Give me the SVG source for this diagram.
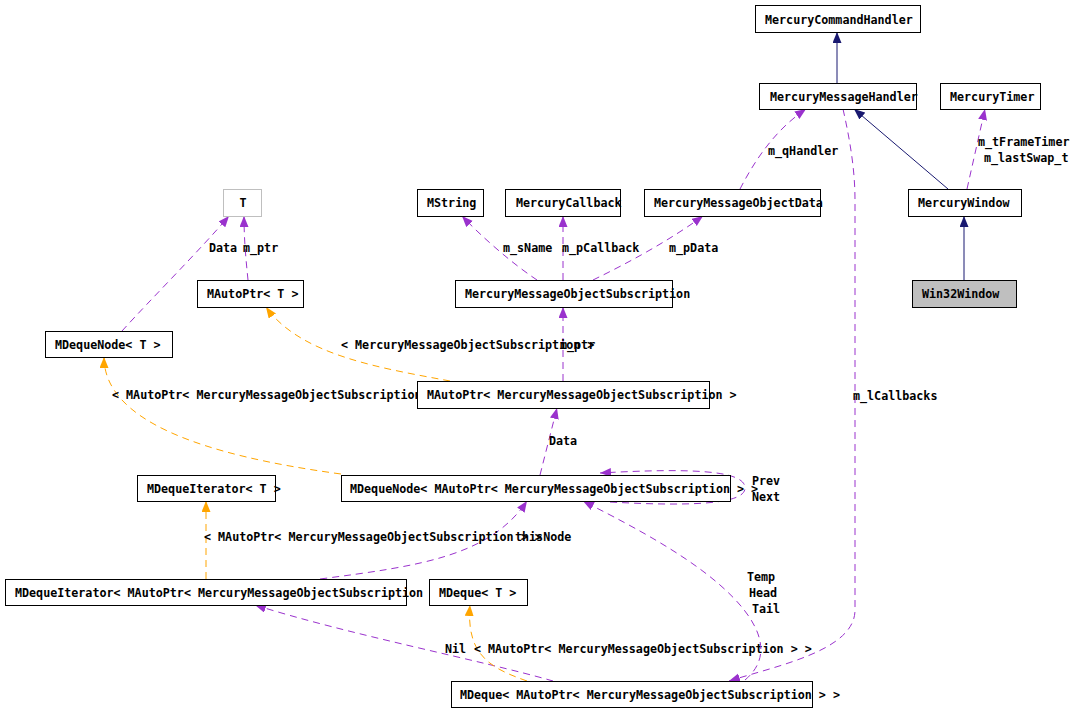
<svg xmlns="http://www.w3.org/2000/svg" width="1070" height="712" viewBox="0 0 1070 712">
<style>
text{font-family:"DejaVu Sans Mono","Liberation Mono",monospace;font-weight:bold;font-size:11.7px;fill:#000}
.box{fill:#fff;stroke:#000;stroke-width:1}
.e{fill:none;stroke-width:1}
.inh{stroke:#191970}
.use{stroke:#9a32cd;stroke-dasharray:7,5}
.tpl{stroke:#ffa500;stroke-dasharray:7,5}
</style>
<defs>
<marker id="aN" markerUnits="userSpaceOnUse" markerWidth="12" markerHeight="10" refX="11" refY="4.5" orient="auto"><path d="M0,0 L11,4.5 L0,9 z" fill="#191970"/></marker>
<marker id="aP" markerUnits="userSpaceOnUse" markerWidth="12" markerHeight="10" refX="11" refY="4.5" orient="auto"><path d="M0,0 L11,4.5 L0,9 z" fill="#9a32cd"/></marker>
<marker id="aO" markerUnits="userSpaceOnUse" markerWidth="12" markerHeight="10" refX="11" refY="4.5" orient="auto"><path d="M0,0 L11,4.5 L0,9 z" fill="#ffa500"/></marker>
</defs>
<rect width="1070" height="712" fill="#fff"/>
<g id="connectors">
<path class="e inh" d="M837,83 L837,32" marker-end="url(#aN)"/>
<path class="e inh" d="M948,189 L854,109" marker-end="url(#aN)"/>
<path class="e inh" d="M964,280 L964,216" marker-end="url(#aN)"/>
<path class="e use" d="M967,189 L985,109" marker-end="url(#aP)"/>
<text x="978" y="146">m_tFrameTimer</text>
<text x="984" y="162">m_lastSwap_t</text>
<path class="e use" d="M740,189 C755,160 775,130 806,109" marker-end="url(#aP)"/>
<text x="768" y="155">m_qHandler</text>
<path class="e use" d="M843,109 C850,140 855,170 855,200 L855,610 C855,650 780,665 729,681" marker-end="url(#aP)"/>
<text x="853" y="400">m_lCallbacks</text>
<path class="e use" d="M537,280 C510,262 480,235 462,216" marker-end="url(#aP)"/>
<text x="503" y="252">m_sName</text>
<path class="e use" d="M563,280 L563,216" marker-end="url(#aP)"/>
<text x="562" y="252">m_pCallback</text>
<path class="e use" d="M593,280 C630,262 670,240 703,216" marker-end="url(#aP)"/>
<text x="669" y="252">m_pData</text>
<path class="e use" d="M248,280 C246,260 244,240 244,216" marker-end="url(#aP)"/>
<text x="243" y="252">m_ptr</text>
<path class="e use" d="M122,331 C150,300 200,250 229,216" marker-end="url(#aP)"/>
<text x="209" y="252">Data</text>
<path class="e use" d="M563,381 L563,307" marker-end="url(#aP)"/>
<path class="e tpl" d="M450,381 C380,368 300,355 266,307" marker-end="url(#aO)"/>
<text x="341" y="349">&lt; MercuryMessageObjectSubscription &gt;</text>
<text x="560" y="349">m_ptr</text>
<path class="e tpl" d="M341,474 C200,455 104,420 104,357" marker-end="url(#aO)"/>
<text x="112" y="399">&lt; MAutoPtr&lt; MercuryMessageObjectSubscription &gt; &gt;</text>
<path class="e use" d="M540,475 L557,408" marker-end="url(#aP)"/>
<text x="549" y="445">Data</text>
<path class="e use" d="M610,502 C700,507 745,503 745,488 C745,470 690,468 600,473" marker-end="url(#aP)"/>
<text x="752" y="485">Prev</text>
<text x="752" y="501">Next</text>
<path class="e use" d="M320,579 C420,566 490,556 527,501" marker-end="url(#aP)"/>
<path class="e tpl" d="M206,579 L206,501" marker-end="url(#aO)"/>
<text x="204" y="541">&lt; MAutoPtr&lt; MercuryMessageObjectSubscription &gt; &gt;</text>
<text x="515" y="541">thisNode</text>
<path class="e use" d="M553,681 C480,660 350,635 255,605" marker-end="url(#aP)"/>
<text x="445" y="653">Nil</text>
<path class="e tpl" d="M527,681 C490,668 466,655 470,605" marker-end="url(#aO)"/>
<text x="474" y="653">&lt; MAutoPtr&lt; MercuryMessageObjectSubscription &gt; &gt;</text>
<path class="e use" d="M745,680 C775,655 760,620 720,585 C680,550 620,520 583,501" marker-end="url(#aP)"/>
<text x="747" y="581">Temp</text>
<text x="749" y="597">Head</text>
<text x="752" y="613">Tail</text>
</g>
<g id="n_MercuryCommandHandler"><rect class="box" x="755.5" y="5.5" width="165" height="27"/><text x="765" y="24">MercuryCommandHandler</text></g>
<g id="n_MercuryMessageHandler"><rect class="box" x="759.5" y="83.5" width="157" height="26"/><text x="770" y="101">MercuryMessageHandler</text></g>
<g id="n_MercuryTimer"><rect class="box" x="940.5" y="83.5" width="100" height="26"/><text x="950" y="101">MercuryTimer</text></g>
<g id="n_MercuryWindow"><rect class="box" x="908.5" y="189.5" width="113" height="27"/><text x="918" y="207">MercuryWindow</text></g>
<g id="n_Win32Window"><rect x="912.5" y="280.5" width="104" height="27" fill="#bfbfbf" stroke="#000"/><text x="922" y="298">Win32Window</text></g>
<g id="n_T"><rect x="223.5" y="189.5" width="38" height="27" fill="#fff" stroke="#bfbfbf"/><text x="243" y="207" text-anchor="middle">T</text></g>
<g id="n_MString"><rect class="box" x="417.5" y="189.5" width="66" height="27"/><text x="427" y="207">MString</text></g>
<g id="n_MercuryCallback"><rect class="box" x="505.5" y="189.5" width="115" height="27"/><text x="516" y="207">MercuryCallback</text></g>
<g id="n_MercuryMessageObjectData"><rect class="box" x="644.5" y="189.5" width="176" height="27"/><text x="654" y="207">MercuryMessageObjectData</text></g>
<g id="n_MercuryMessageObjectSubscription"><rect class="box" x="455.5" y="280.5" width="217" height="27"/><text x="465" y="298">MercuryMessageObjectSubscription</text></g>
<g id="n_MAutoPtr_T"><rect class="box" x="197.5" y="280.5" width="106" height="27"/><text x="207" y="298">MAutoPtr&lt; T &gt;</text></g>
<g id="n_MDequeNode_T"><rect class="box" x="45.5" y="331.5" width="127" height="26"/><text x="55" y="349">MDequeNode&lt; T &gt;</text></g>
<g id="n_MAutoPtr_MMOS"><rect class="box" x="417.5" y="381.5" width="292" height="27"/><text x="427" y="399">MAutoPtr&lt; MercuryMessageObjectSubscription &gt;</text></g>
<g id="n_MDequeNode_MMOS"><rect class="box" x="341.5" y="475.5" width="389" height="26"/><text x="350" y="493">MDequeNode&lt; MAutoPtr&lt; MercuryMessageObjectSubscription &gt; &gt;</text></g>
<g id="n_MDequeIterator_T"><rect class="box" x="137.5" y="475.5" width="138" height="26"/><text x="147" y="493">MDequeIterator&lt; T &gt;</text></g>
<g id="n_MDequeIterator_MMOS"><rect class="box" x="5.5" y="579.5" width="401" height="26"/><text x="15" y="597">MDequeIterator&lt; MAutoPtr&lt; MercuryMessageObjectSubscription &gt; &gt;</text></g>
<g id="n_MDeque_T"><rect class="box" x="429.5" y="579.5" width="98" height="26"/><text x="439" y="597">MDeque&lt; T &gt;</text></g>
<g id="n_MDeque_MMOS"><rect class="box" x="451.5" y="681.5" width="361" height="26"/><text x="460" y="699">MDeque&lt; MAutoPtr&lt; MercuryMessageObjectSubscription &gt; &gt;</text></g>
</svg>
